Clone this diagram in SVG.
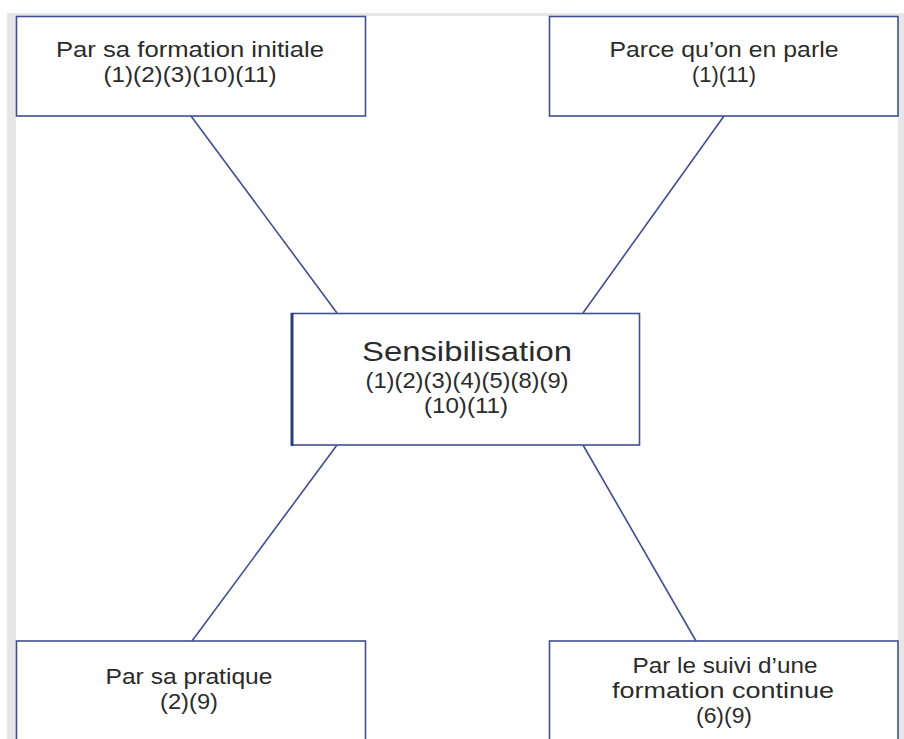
<svg xmlns="http://www.w3.org/2000/svg" width="904" height="739" viewBox="0 0 904 739">
<style>
.box{fill:#fff;stroke:#3f4f8f;stroke-width:1.6}
.t{font-family:"Liberation Sans",Arial,sans-serif;font-size:22.5px;fill:#2b2b2b;text-anchor:middle}
.big{font-size:28px}
.link{stroke:#3f4f8f;stroke-width:1.6;fill:none}
</style>
<rect x="0" y="0" width="904" height="739" fill="#fff"/>
<rect x="7" y="14" width="9" height="725" fill="#e6e6e6"/>
<rect x="7" y="13" width="897" height="3" fill="#e6e6e6"/>
<rect x="898" y="14" width="6" height="725" fill="#e6e6e6"/>
<g id="connectors">
<line class="link" x1="191" y1="116" x2="337" y2="313"/>
<line class="link" x1="724" y1="116" x2="583" y2="313"/>
<line class="link" x1="337" y1="445" x2="192" y2="641"/>
<line class="link" x1="583" y1="445" x2="696" y2="641"/>
</g>
<g id="n-initiale">
<rect class="box" x="16.5" y="16.5" width="349" height="99.5"/>
<text class="t" x="190" y="57" textLength="268" lengthAdjust="spacingAndGlyphs">Par sa formation initiale</text>
<text class="t" x="190" y="82" textLength="173" lengthAdjust="spacingAndGlyphs">(1)(2)(3)(10)(11)</text>
</g>
<g id="n-parle">
<rect class="box" x="549.5" y="16.5" width="348.5" height="99.5"/>
<text class="t" x="724" y="57" textLength="229" lengthAdjust="spacingAndGlyphs">Parce qu’on en parle</text>
<text class="t" x="724" y="82" textLength="64" lengthAdjust="spacingAndGlyphs">(1)(11)</text>
</g>
<g id="n-sensibilisation">
<rect class="box" x="292" y="313.5" width="347.5" height="131.5"/>
<line x1="292" y1="313" x2="292" y2="446" stroke="#2f3d7a" stroke-width="3"/>
<text class="t big" x="467" y="361" textLength="210" lengthAdjust="spacingAndGlyphs">Sensibilisation</text>
<text class="t" x="467" y="388" textLength="203" lengthAdjust="spacingAndGlyphs">(1)(2)(3)(4)(5)(8)(9)</text>
<text class="t" x="466" y="413" textLength="84" lengthAdjust="spacingAndGlyphs">(10)(11)</text>
</g>
<g id="n-pratique">
<rect class="box" x="16.5" y="641" width="349" height="110"/>
<text class="t" x="189" y="684" textLength="167" lengthAdjust="spacingAndGlyphs">Par sa pratique</text>
<text class="t" x="189" y="709" textLength="58" lengthAdjust="spacingAndGlyphs">(2)(9)</text>
</g>
<g id="n-continue">
<rect class="box" x="549.5" y="641" width="348.5" height="110"/>
<text class="t" x="725" y="673" textLength="185" lengthAdjust="spacingAndGlyphs">Par le suivi d’une</text>
<text class="t" x="723" y="698" textLength="222" lengthAdjust="spacingAndGlyphs">formation continue</text>
<text class="t" x="724" y="723" textLength="56" lengthAdjust="spacingAndGlyphs">(6)(9)</text>
</g>
</svg>
